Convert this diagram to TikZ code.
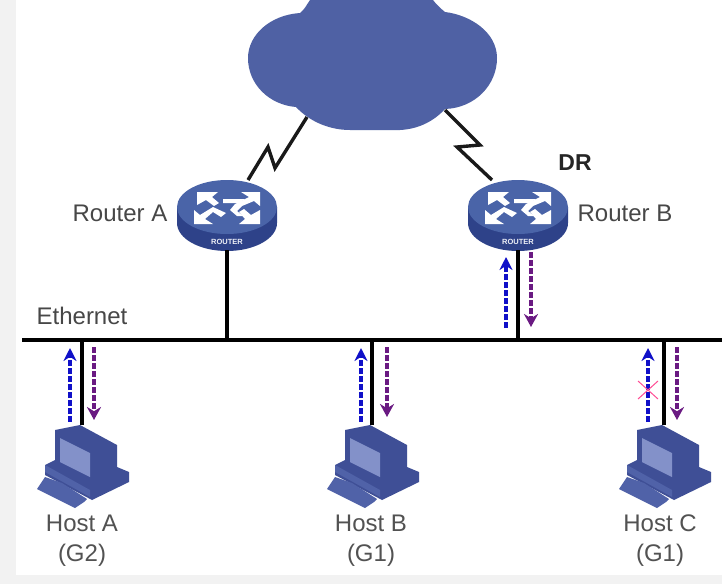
\documentclass[tikz,border=0pt]{standalone}
\usepackage{fontspec}
\setsansfont{Liberation Sans}
\usepackage{tikz}
\usetikzlibrary{calc,arrows.meta}
\definecolor{cloudblue}{HTML}{4F61A4}
\definecolor{routertop}{HTML}{4A64A8}
\definecolor{routerside}{HTML}{2E4289}
\definecolor{pcdark}{HTML}{3F4F96}
\definecolor{pcmid}{HTML}{5062A8}
\definecolor{pcscreen}{HTML}{8391C9}
\definecolor{flowblue}{HTML}{1010C8}
\definecolor{flowpurple}{HTML}{6A1A82}

\begin{document}
\begin{tikzpicture}[
  x=1pt, y=-1pt,
  font=\sffamily\fontsize{24}{28}\selectfont,
  >=Stealth,
  wire/.style={draw=black, line width=3.4pt},
  zigzag/.style={draw=black!90, line width=3.4pt, line join=miter},
  upflow/.style={draw=flowblue, line width=3.6pt, dash pattern=on 6pt off 2pt,
                 -{Stealth[length=13pt,width=13pt]}},
  downflow/.style={draw=flowpurple, line width=3.6pt, dash pattern=on 6pt off 2pt,
                 -{Stealth[length=13pt,width=14pt]}},
  lbl/.style={text=black!72, inner sep=0pt},
  hostlbl/.style={text=black!68, inner sep=0pt, align=center, font=\sffamily\fontsize{24}{30}\selectfont},
  router/.pic={
    \fill[routerside] (-50,0) -- (-50,16) arc[start angle=180, end angle=0, x radius=50, y radius=28]
        -- (50,0) -- cycle;
    \fill[routertop] (0,0) ellipse[x radius=50, y radius=27];
    % the four white arrows
    \fill[white] (-30,-15) -- (-9,-15) -- (-15,-10) -- (-8,-4) -- (-13,-1) -- (-21,-7) -- (-30,-2) -- cycle;
    \fill[white] (33,-15) -- (33,-1) -- (27,-6) -- (15,-1) -- (10,4) -- (16,9) -- (10,9)  -- (3,3) -- (8,-3) -- (22,-10) -- (14,-15) -- cycle;
    \fill[white] (-33,17) -- (-33,3) -- (-27,8) -- (-14,0) -- (-1,6) -- (-6,10) -- (-14,5) -- (-22,12) -- (-14,17) -- cycle;
    \fill[white] (33,17) -- (12,17) -- (18,12) -- (12,5) -- (17,2) -- (24,8) -- (33,3) -- cycle;
    \fill[white] (-4,-8) -- (18,-8) -- (12,-4) -- (-4,-4) -- cycle;
    \node[text=white!90!routertop, inner sep=0pt, font=\sffamily\bfseries\fontsize{7.5}{8}\selectfont] at (0,35) {ROUTER};
    \coordinate (-top) at (0,-27);
    \coordinate (-bottom) at (0,43);
  },
  hostpc/.pic={
    \fill[pcdark] (-27,5) -- (-2,0) -- (35,20) -- (35,45) -- (8,62) -- (-27,38) -- cycle;
    \fill[pcscreen] (-22,13) -- (8,28) -- (8,52) -- (-22,37) -- cycle;
    \fill[pcdark] (-37,40) -- (-27,35) -- (8,58) -- (35,42) -- (47,47) -- (47,57) -- (10,75) -- (-37,50) -- cycle;
    \fill[pcmid] (-37,40) -- (8,65) -- (8,72) -- (-37,47) -- cycle;
    \fill[pcmid] (-45,64) -- (-37,52) -- (-20,58) -- (5,74) -- (2,77) -- (-7,83) -- cycle;
    \coordinate (-top) at (0,0);
  },
]
\useasboundingbox (0,0) rectangle (722,584);

%% ===== BACKGROUND =====
\fill[black!5] (0,0) rectangle (722,584);
\fill[white] (16,0) rectangle (722,575);

%% ===== CLOUD =====
\fill[cloudblue] (310,0) .. controls (306,6) and (304,10) .. (300,13)
    .. controls (270,15) and (248,35) .. (248,58)
    .. controls (248,85) and (270,105) .. (296,107)
    .. controls (310,122) and (330,130) .. (350,130)
    -- (400,130) .. controls (420,129) and (435,120) .. (445,109)
    .. controls (475,108) and (497,85) .. (497,58)
    .. controls (497,32) and (470,15) .. (445,12)
    .. controls (440,8) and (436,4) .. (433,0) -- cycle;
\coordinate (cloudL) at (307,117);
\coordinate (cloudR) at (445,110);

%% ===== ROUTERS =====
\pic (routerA) at (227,207) {router};
\pic (routerB) at (518,207) {router};

\node[lbl] (labelA) at (120,213) {Router A};
\node[lbl] (labelB) at (625,213) {Router B};
\node[inner sep=0pt, text=black!85, font=\sffamily\bfseries\fontsize{23}{26}\selectfont] (labelDR) at (575,163) {DR};

%% ===== ETHERNET =====
\coordinate (busL) at (22,340);
\coordinate (busR) at (722,340);
\node[lbl] (labelEth) at (82,316) {Ethernet};

%% ===== HOSTS =====
\pic (hostA) at (82,425) {hostpc};
\pic (hostB) at (372,425) {hostpc};
\pic (hostC) at (664,425) {hostpc};

\node[hostlbl] (labelHA) at (82,541) {Host A\\(G2)};
\node[hostlbl] (labelHB) at (371,541) {Host B\\(G1)};
\node[hostlbl] (labelHC) at (660,541) {Host C\\(G1)};

%% ===== CONNECTING LINES =====
\draw[wire, line width=4pt] (busL) -- (busR);
\draw[wire] (routerA-bottom) -- (routerA-bottom |- busL);
\draw[wire] (routerB-bottom) -- (routerB-bottom |- busL);
\draw[wire] (hostA-top) -- (hostA-top |- busL);
\draw[wire] (hostB-top) -- (hostB-top |- busL);
\draw[wire] (hostC-top) -- (hostC-top |- busL);

\draw[zigzag] (cloudL) -- (275,168) -- (268,147) -- (routerA-top -| 248,0);
\draw[zigzag] (cloudR) -- (480,145) -- (457,147) -- (routerB-top -| 492,0);

%% ===== REPORT / QUERY ARROWS =====
\draw[upflow] ($(hostA-top)+(-12,-3)$) -- ($(hostA-top |- busL)+(-12,8)$);
\draw[downflow] ($(hostA-top |- busL)+(12,7)$) -- ($(hostA-top)+(12,-5)$);
\draw[upflow] ($(hostB-top)+(-11,-3)$) -- ($(hostB-top |- busL)+(-11,8)$);
\draw[downflow] ($(hostB-top |- busL)+(15,7)$) -- ($(hostB-top)+(15,-8)$);
\draw[upflow] ($(hostC-top)+(-16,-3)$) -- ($(hostC-top |- busL)+(-16,8)$);
\draw[downflow] ($(hostC-top |- busL)+(13,7)$) -- ($(hostC-top)+(13,-5)$);
\draw[upflow] ($(routerB-bottom |- busL)+(-12,-12)$) -- ($(routerB-bottom)+(-12,7)$);
\draw[downflow] ($(routerB-bottom)+(13,2)$) -- ($(routerB-bottom |- busL)+(13,-13)$);

%% blocked report
\coordinate (blocked) at (648,390);
\draw[red!60!magenta!70, line width=1pt] ($(blocked)+(-10,-9)$) -- ($(blocked)+(10,9)$);
\draw[red!60!magenta!70, line width=1pt] ($(blocked)+(10,-9)$) -- ($(blocked)+(-10,9)$);

\end{tikzpicture}
\end{document}
